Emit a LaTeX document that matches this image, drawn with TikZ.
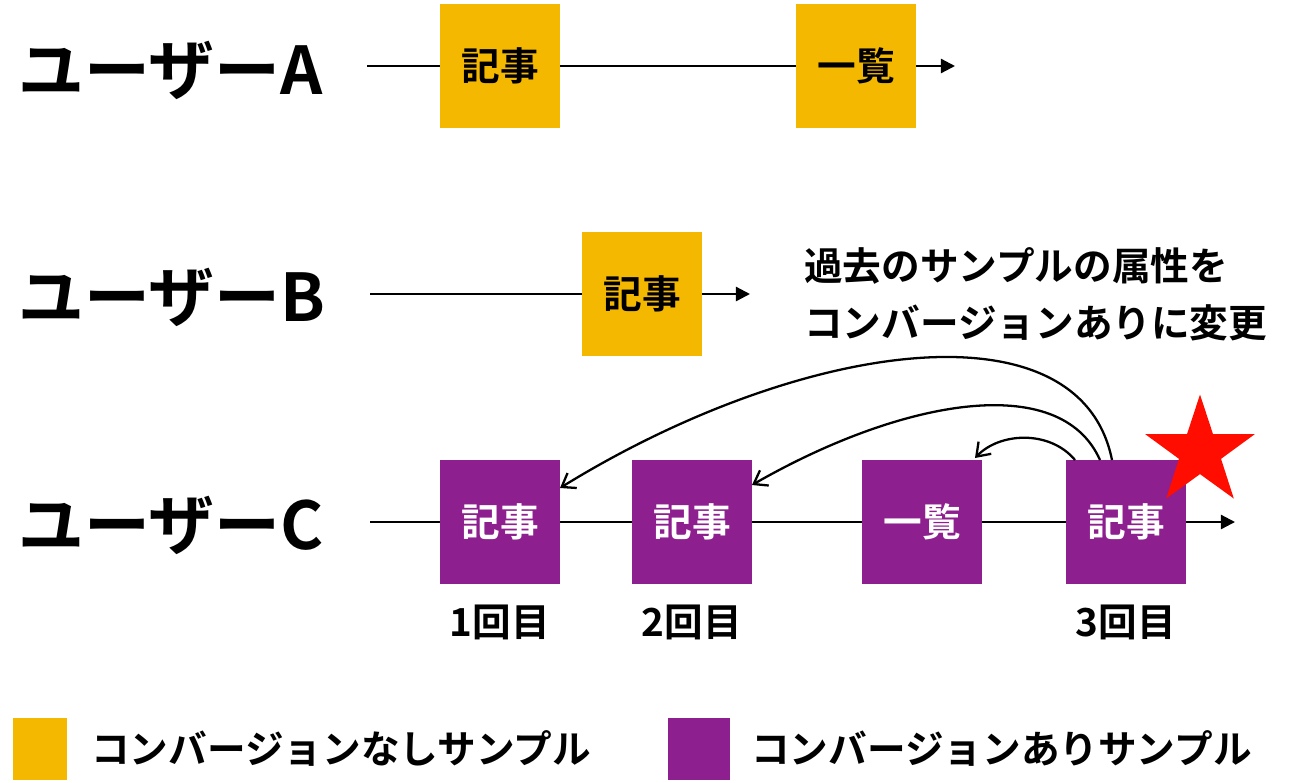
\documentclass[tikz,border=0pt]{standalone}
\usepackage{fontspec}
\setmainfont{Noto Sans CJK JP}[BoldFont={Noto Sans CJK JP Bold}]
\usetikzlibrary{shapes.geometric,arrows.meta}
\definecolor{org}{HTML}{F5B800}
\definecolor{pur}{HTML}{8E1F8F}
\tikzset{
 box/.style={minimum width=2.4cm,minimum height=2.5cm,inner sep=0pt,font=\fontsize{22}{24}\selectfont\bfseries},
 ob/.style={box,fill=org,text=black},
 pb/.style={box,fill=pur,text=white},
 user/.style={anchor=west,font=\fontsize{37.5}{40}\selectfont\bfseries},
 lab/.style={font=\fontsize{22}{24}\selectfont\bfseries},
 ln/.style={line width=1.3pt,-{Triangle[length=8pt,width=8pt]}},
 cv/.style={line width=1.3pt,-{Straight Barb[length=7pt,width=10pt]}}
}
\begin{document}
\begin{tikzpicture}[x=0.02cm,y=-0.02cm]
\useasboundingbox (0,0) rectangle (1292,782);
% row A
\node[user] (ua) at (12,70) {ユーザーA};
\coordinate (as) at (367,66); \coordinate (ae) at (955,66);
\draw[ln] (as) -- (ae);
\node[ob] (a1) at (500,66) {記事};
\node[ob] (a2) at (856,66) {一覧};
% row B
\node[user] (ub) at (12,297) {ユーザーB};
\coordinate (bs) at (370,294); \coordinate (be) at (750,294);
\draw[ln] (bs) -- (be);
\node[ob] (b1) at (642,294) {記事};
% row C
\node[user] (uc) at (12,525) {ユーザーC};
\coordinate (cs) at (370,522); \coordinate (ce) at (1235,522);
\draw[ln] (cs) -- (ce);
\node[pb] (c1) at (500,522) {記事};
\node[pb] (c2) at (692,522) {記事};
\node[pb] (c3) at (922,522) {一覧};
\node[pb] (c4) at (1126,522) {記事};
\node[lab] (l1) at (500,622) {1回目};
\node[lab] (l2) at (692,622) {2回目};
\node[lab] (l3) at (1126,622) {3回目};
\node[star,star points=5,star point ratio=2.6,fill=red!90!orange,minimum size=2.3cm,inner sep=0pt] (st) at (1200,452) {};
% curves
\draw[cv] (1112,460) .. controls (1080,300) and (800,340) .. (560,488);
\draw[cv] (1100,460) .. controls (1060,370) and (900,400) .. (752,485);
\draw[cv] (1075,460) .. controls (1050,430) and (1000,432) .. (975,458);
% annotation
\node[lab,anchor=west] (n1) at (798,266) {過去のサンプルの属性を};
\node[lab,anchor=west] (n2) at (798,323) {コンバージョンありに変更};
% legend
\node[fill=org,minimum width=1.1cm,minimum height=1.24cm,inner sep=0pt] (lg1) at (40,749) {};
\node[lab,anchor=west] (lt1) at (85,748) {コンバージョンなしサンプル};
\node[fill=pur,minimum width=1.24cm,minimum height=1.24cm,inner sep=0pt] (lg2) at (699,749) {};
\node[lab,anchor=west] (lt2) at (745,748) {コンバージョンありサンプル};
\end{tikzpicture}
\end{document}
